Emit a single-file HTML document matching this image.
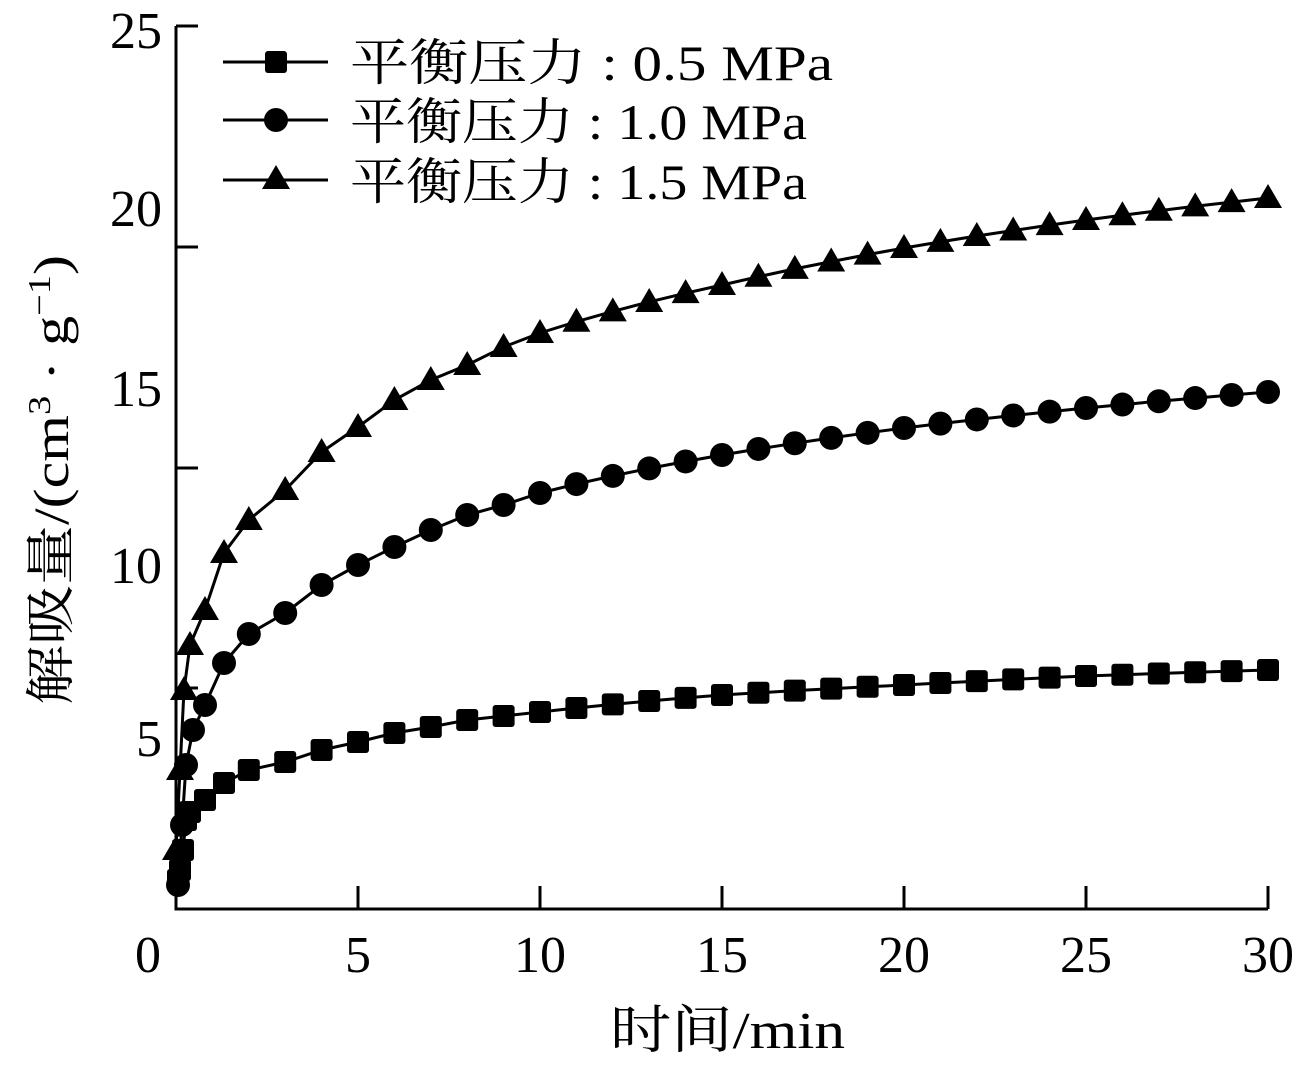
<!DOCTYPE html>
<html><head><meta charset="utf-8"><style>
html,body{margin:0;padding:0;background:#fff;}
svg text{font-family:"Liberation Serif","Noto Serif CJK SC",serif;fill:#000;}
</style></head><body>
<svg id="s" width="1302" height="1067" xmlns="http://www.w3.org/2000/svg">
<g stroke="#000" stroke-width="3" fill="none">
<polyline points="176,26 176,909 1268,909"/>
<line x1="176" y1="26" x2="198" y2="26"/>
<line x1="176" y1="247" x2="198" y2="247"/>
<line x1="176" y1="468" x2="198" y2="468"/>
<line x1="176" y1="688" x2="198" y2="688"/>
<line x1="358" y1="909" x2="358" y2="886"/>
<line x1="540" y1="909" x2="540" y2="886"/>
<line x1="722" y1="909" x2="722" y2="886"/>
<line x1="904" y1="909" x2="904" y2="886"/>
<line x1="1086" y1="909" x2="1086" y2="886"/>
<line x1="1268" y1="909" x2="1268" y2="886"/>
</g>
<g font-size="52" text-anchor="end">
<text x="162" y="48">25</text>
<text x="162" y="226">20</text>
<text x="162" y="406">15</text>
<text x="162" y="583">10</text>
<text x="162" y="756">5</text>
</g>
<g font-size="52" text-anchor="middle">
<text x="148" y="972">0</text>
<text x="358" y="972">5</text>
<text x="540" y="972">10</text>
<text x="722" y="972">15</text>
<text x="904" y="972">20</text>
<text x="1086" y="972">25</text>
<text x="1268" y="972">30</text>
<text x="610" y="1048" text-anchor="start" textLength="235" lengthAdjust="spacingAndGlyphs">时间/min</text>
</g>
<text font-size="50" transform="translate(68,705) rotate(-90)" textLength="450" lengthAdjust="spacingAndGlyphs">解吸量/(cm<tspan font-size="32" dy="-18">3</tspan><tspan dy="18"> · g</tspan><tspan font-size="32" dy="-18">−1</tspan><tspan dy="18">)</tspan></text>
<g stroke="#000" stroke-width="3">
<line x1="223" y1="62" x2="328" y2="62"/>
<line x1="223" y1="120" x2="328" y2="120"/>
<line x1="223" y1="180" x2="328" y2="180"/>
</g>
<rect x="265" y="51" width="22" height="22" rx="3" fill="#000"/>
<circle cx="276" cy="120" r="12" fill="#000"/>
<polygon points="276,165 290,189 262,189" fill="#000"/>
<g font-size="50">
<text x="350" y="80" textLength="483" lengthAdjust="spacingAndGlyphs">平衡压力 : 0.5 MPa</text>
<text x="350" y="139" textLength="457" lengthAdjust="spacingAndGlyphs">平衡压力 : 1.0 MPa</text>
<text x="350" y="199" textLength="457" lengthAdjust="spacingAndGlyphs">平衡压力 : 1.5 MPa</text>
</g>
<g id="data"></g>
</svg>
<script>
var X=function(t){return 176+t*36.4};
var T=[2,3,4,5,6,7,8,9,10,15,20,25,30];
var series=[
 {m:'s',ys:[770,762,750,742,733,727,720,716,712,695,685,676,670],early:[[178,880],[180,870],[183,850],[186,820],[190,812],[205,800],[224,783]]},
 {m:'c',ys:[634,613,585,565,547,530,515,505,493,455,428,408,392],early:[[178,885],[182,825],[186,765],[193,730],[205,705],[224,663]]},
 {m:'t',ys:[520,490,452,427,400,380,365,347,333,285,248,220,198],early:[[176,850],[180,770],[184,690],[190,645],[205,610],[224,553]]}
];
function interp(ys,t){
 for(var i=0;i<T.length-1;i++){if(t<=T[i+1]){var a=Math.log(T[i]),b=Math.log(T[i+1]),f=(Math.log(t)-a)/(b-a);return ys[i]+(ys[i+1]-ys[i])*f;}}
 return ys[ys.length-1];
}
var g=document.getElementById('data'),h='';
series.forEach(function(s){
 var pts=s.early.slice();
 for(var t=2;t<=30;t++)pts.push([X(t),interp(s.ys,t)]);
 h+='<polyline fill="none" stroke="#000" stroke-width="3" points="'+pts.map(function(p){return p[0].toFixed(1)+','+p[1].toFixed(1)}).join(' ')+'"/>';
 pts.forEach(function(p){
  var x=p[0],y=p[1];
  if(s.m=='s')h+='<rect x="'+(x-11)+'" y="'+(y-11)+'" width="22" height="22" rx="3"/>';
  else if(s.m=='c')h+='<circle cx="'+x+'" cy="'+y+'" r="12"/>';
  else h+='<polygon points="'+x+','+(y-14)+' '+(x+14)+','+(y+10)+' '+(x-14)+','+(y+10)+'"/>';
 });
});
g.innerHTML=h;
</script>
</body></html>
